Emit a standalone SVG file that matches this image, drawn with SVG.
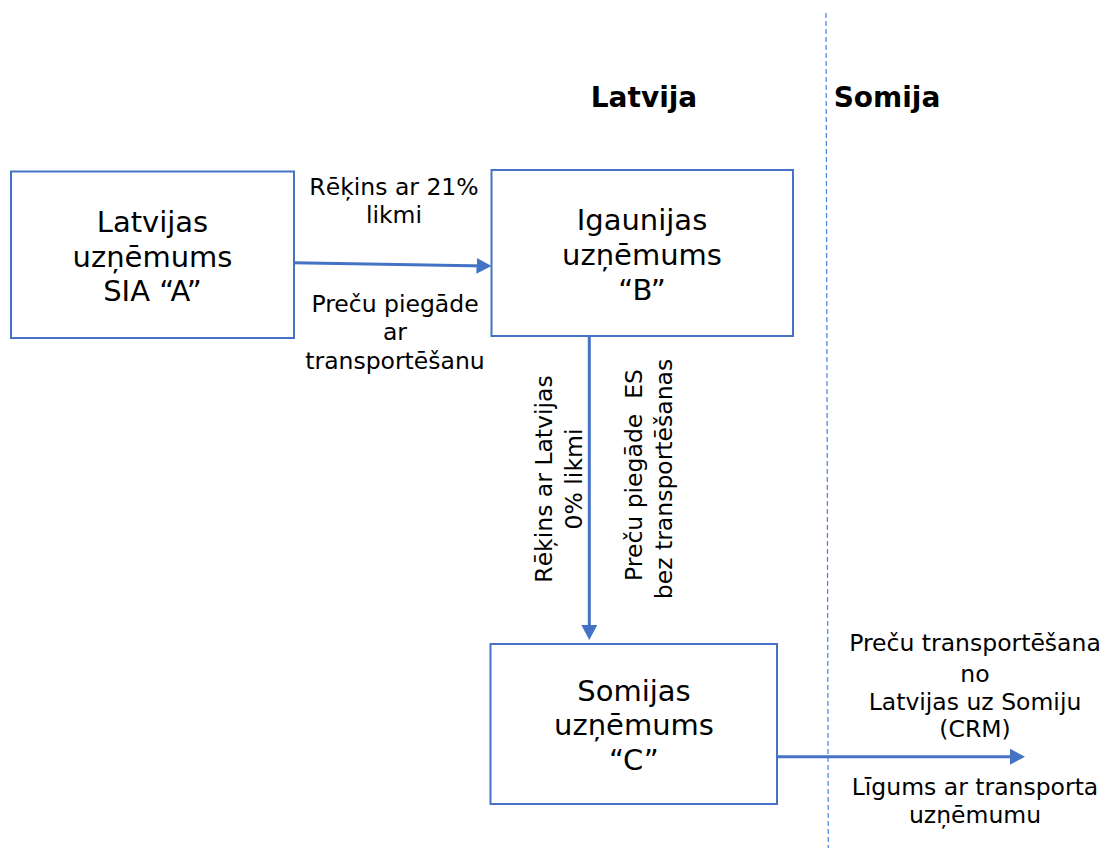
<svg xmlns="http://www.w3.org/2000/svg" width="1106" height="848" viewBox="0 0 1106 848">
<style>
.box{fill:#fff;stroke:#4472C4;stroke-width:2}
.t{font-family:"DejaVu Sans",Verdana,sans-serif;fill:#000;text-anchor:middle}
.bt{font-size:29px}
.lb{font-size:23.5px}
.hd{font-size:28px;font-weight:bold}
.con{fill:none;stroke:#4472C4;stroke-width:3}
.div{fill:none;stroke:#4A80E0;stroke-width:1.2;stroke-dasharray:5 3}
</style>
<defs>
<marker id="ah" viewBox="0 0 15 16" refX="10" refY="8" markerWidth="15" markerHeight="16" markerUnits="userSpaceOnUse" orient="auto">
<path d="M0,0 L15,8 L0,16 Z" fill="#4472C4"/>
</marker>
</defs>
<rect width="1106" height="848" fill="#fff"/>
<g id="divider">
<path class="div" d="M826,13 L828.3,848"/>
</g>
<g id="headers">
<text class="t hd" x="644" y="107">Latvija</text>
<text class="t hd" x="887" y="107">Somija</text>
</g>
<g id="connectors">
<path class="con" d="M293,262.7 L486.5,266" marker-end="url(#ah)"/>
<path class="con" d="M589.3,337 L589.3,635" marker-end="url(#ah)"/>
<path class="con" d="M777,756.7 L1020,756.7" marker-end="url(#ah)"/>
</g>
<g id="nodeA">
<rect class="box" x="11" y="171.5" width="283" height="166.5"/>
<text class="t bt" x="152.5" y="232">Latvijas</text>
<text class="t bt" x="152.5" y="267">uzņēmums</text>
<text class="t bt" x="152.5" y="301">SIA “A”</text>
</g>
<g id="nodeB">
<rect class="box" x="491.5" y="170" width="301.5" height="166"/>
<text class="t bt" x="642" y="230">Igaunijas</text>
<text class="t bt" x="642" y="265">uzņēmums</text>
<text class="t bt" x="642" y="300">“B”</text>
</g>
<g id="nodeC">
<rect class="box" x="490.5" y="644" width="286.5" height="160"/>
<text class="t bt" x="634" y="701">Somijas</text>
<text class="t bt" x="634" y="735">uzņēmums</text>
<text class="t bt" x="634" y="770">“C”</text>
</g>
<g id="labels">
<text class="t lb" x="394" y="195">Rēķins ar 21%</text>
<text class="t lb" x="394" y="223">likmi</text>
<text class="t lb" x="395" y="312">Preču piegāde</text>
<text class="t lb" x="395" y="340">ar</text>
<text class="t lb" x="395" y="368.5">transportēšanu</text>
<text class="t lb" transform="translate(551.7,479) rotate(-90)">Rēķins ar Latvijas</text>
<text class="t lb" transform="translate(581.7,479) rotate(-90)">0% likmi</text>
<text class="t lb" transform="translate(641.7,475) rotate(-90)" xml:space="preserve" style="white-space:pre">Preču piegāde  ES</text>
<text class="t lb" transform="translate(671.7,479) rotate(-90)">bez transportēšanas</text>
<text class="t lb" x="975" y="651">Preču transportēšana</text>
<text class="t lb" x="975" y="682">no</text>
<text class="t lb" x="975" y="710">Latvijas uz Somiju</text>
<text class="t lb" x="975" y="737">(CRM)</text>
<text class="t lb" x="975" y="795">Līgums ar transporta</text>
<text class="t lb" x="975" y="823">uzņēmumu</text>
</g>
</svg>
